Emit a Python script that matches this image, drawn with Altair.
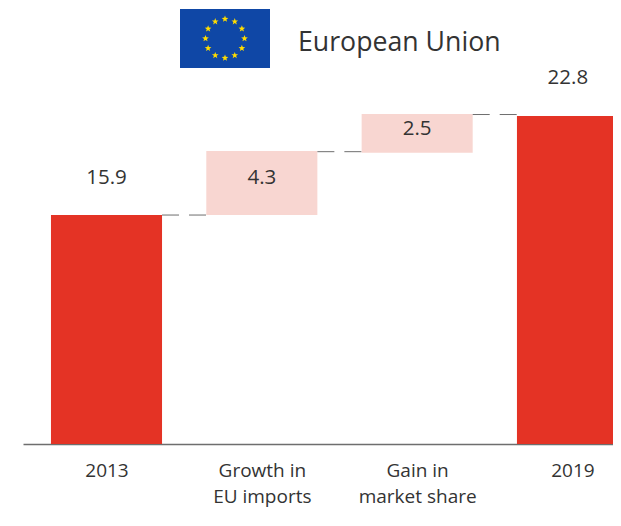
import math
import altair as alt
import pandas as pd

# Chart values
categories = ["2013", "Growth in\nEU  imports", "Gain in\nmarket share", "2019"]
bar_bottoms = [0, 15.9, 20.23, 0]
bar_tops = [15.9, 20.35, 22.92, 22.78]
value_labels = ["15.9", "4.3", "2.5", "22.8"]
label_heights = [18.47, 18.47, 21.87, 25.43]
label_slots = [0, 1, 2, 2.97]
connector_levels = [15.9, 20.3, 22.88]
bar_kinds = ["total", "change", "change", "total"]
heading = "European Union"

HALF = 0.3575
PX_PER_UNIT = 14.4
PLOT_W, PLOT_H = 590, 436
X_STEP = 155.33
X_LEFT = -83.5 / X_STEP
x_scale = alt.Scale(domain=[X_LEFT, X_LEFT + PLOT_W / X_STEP], nice=False, zero=False)
y_scale = alt.Scale(domain=[0, PLOT_H / PX_PER_UNIT], nice=False)
FONT = "Open Sans"
INK = "#333333"

idx = list(range(len(categories)))
bars = pd.DataFrame({
    "i": idx,
    "x0": [i - HALF for i in idx],
    "x1": [i + HALF for i in idx],
    "bottom": bar_bottoms,
    "top": bar_tops,
    "kind": bar_kinds,
    "label": value_labels,
    "lx": label_slots,
    "ly": label_heights,
})
links = pd.DataFrame({
    "x0": [i + HALF for i in idx[:-1]],
    "x1": [i + 1 - HALF for i in idx[:-1]],
    "y": connector_levels,
})

label_js = "[" + ",".join("'" + c.replace("\n", "|") + "'" for c in categories) + "]"
x_axis = alt.Axis(
    title=None, values=idx, ticks=False, grid=False, domainColor="#6e6e6e", domainWidth=1.5,
    labelExpr=f"split({label_js}[datum.value], '|')",
    labelFont=FONT, labelFontSize=19, labelColor=INK, labelPadding=26,
    labelLineHeight=26, labelAngle=0, labelAlign="center", labelBaseline="middle",
    labelOverlap=False, labelBound=False, labelFlush=False,
)

bar_layer = alt.Chart(bars).mark_bar(clip=True).encode(
    x=alt.X("x0:Q", scale=x_scale, axis=x_axis),
    x2="x1:Q",
    y=alt.Y("bottom:Q", scale=y_scale, axis=None),
    y2="top:Q",
    color=alt.Color("kind:N", scale=alt.Scale(domain=["total", "change"], range=["#E43325", "#F8D6D1"]), legend=None),
)
link_layer = alt.Chart(links).mark_rule(color="#6e6e6e", strokeWidth=1, strokeDash=[17, 10]).encode(
    x=alt.X("x0:Q", scale=x_scale), x2="x1:Q", y=alt.Y("y:Q", scale=y_scale),
)
text_layer = alt.Chart(bars).mark_text(font=FONT, fontSize=20.5, color=INK, baseline="middle").encode(
    x=alt.X("lx:Q", scale=x_scale), y=alt.Y("ly:Q", scale=y_scale), text="label:N",
)

# Heading and flag decoration
head = alt.Chart(pd.DataFrame({"t": [heading]})).mark_text(
    font=FONT, fontSize=26.7, color=INK, align="left", baseline="middle"
).encode(x=alt.value(275), y=alt.value(35), text="t:N")
flag = alt.Chart(pd.DataFrame({"a": [0]})).mark_rect(color="#0F47A6").encode(
    x=alt.value(157), x2=alt.value(247), y=alt.value(1), y2=alt.value(60),
)
pts = []
for k in range(10):
    r = 1.0 if k % 2 == 0 else 0.42
    a = -math.pi / 2 + k * math.pi / 5
    pts.append(f"{r * math.cos(a):.3f},{r * math.sin(a):.3f}")
star_path = "M" + "L".join(pts) + "Z"
stars = pd.DataFrame({
    "sx": [202 + 19.5 * math.sin(k * math.pi / 6) for k in range(12)],
    "sy": [30.5 - 19.5 * math.cos(k * math.pi / 6) for k in range(12)],
})
star_layer = alt.Chart(stars).mark_point(
    shape=star_path, filled=True, color="#FFDD00", opacity=1, size=49, strokeWidth=0
).encode(x=alt.X("sx:Q", scale=None), y=alt.Y("sy:Q", scale=None))

chart = alt.layer(bar_layer, link_layer, text_layer, flag, star_layer, head).properties(
    width=PLOT_W, height=PLOT_H,
    padding={"left": 15, "top": 0, "right": 0, "bottom": 74},
    autosize=alt.AutoSizeParams(type="none"),
).configure_view(stroke=None).resolve_scale(x="shared", y="shared")

chart.save("out.html", embed_options={"renderer": "svg", "actions": False})
